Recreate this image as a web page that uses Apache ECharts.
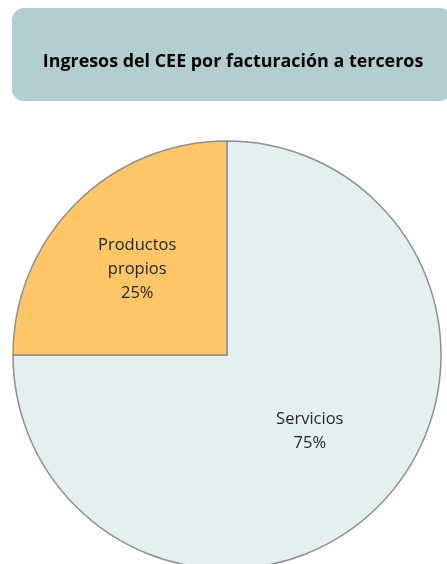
<!DOCTYPE html>
<html><head><meta charset="utf-8">
<script src="https://cdn.jsdelivr.net/npm/echarts@6/dist/echarts.min.js"></script>
<style>html,body{margin:0;padding:0;background:#fff}#c{width:447px;height:564px}</style>
</head><body><div id="c"></div>
<script>
const titleText = 'Ingresos del CEE por facturación a terceros';
const categories = ['Servicios', 'Productos\npropios'];
const values = [75, 25];
const colors = ['#e4f0f0', '#ffc667'];
const labelOffsets = [[5, -1], [-12, -8]];

const chart = echarts.init(document.getElementById('c'), null, {renderer: 'canvas'});
chart.setOption({
  animation: false,
  graphic: [{
    type: 'rect', left: 12, top: 8, z: 0,
    shape: {width: 440, height: 93, r: 12},
    style: {fill: '#b3cece'}
  }],
  title: {
    text: titleText, left: 228, top: 57, textAlign: 'center', textVerticalAlign: 'middle',
    textStyle: {fontFamily: 'Open Sans', fontWeight: 'bold', fontSize: 17.9, color: '#000'}
  },
  series: [{
    type: 'pie', center: [227, 355], radius: 214, startAngle: 90, clockwise: true,
    silent: true,
    itemStyle: {borderColor: '#8f8f8f', borderWidth: 1.5},
    label: {position: 'inside', formatter: p => p.name + '\n' + Math.round(p.percent) + '%',
      fontFamily: 'Open Sans', fontSize: 16.5, color: '#262626', lineHeight: 24},
    labelLine: {show: false},
    data: categories.map((n, i) => ({name: n, value: values[i], itemStyle: {color: colors[i]},
      label: {offset: labelOffsets[i]}}))
  }]
});
</script></body></html>
